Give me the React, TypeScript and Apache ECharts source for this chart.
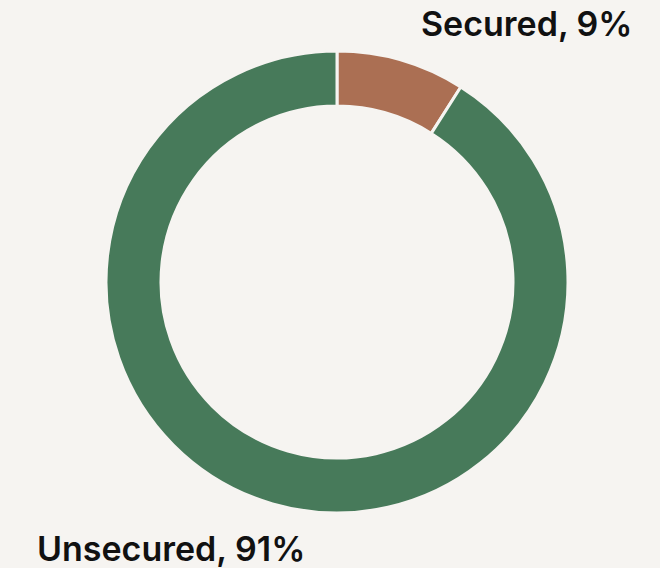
import React, { useEffect, useRef } from "react";
import * as echarts from "echarts";

const categories = ["Secured", "Unsecured"];
const values = [9, 91];
const colors = ["#ab6f53", "#477a5a"];

export default function App() {
  const ref = useRef<HTMLDivElement>(null);
  useEffect(() => {
    document.body.style.margin = "0";
    const chart = echarts.init(ref.current!, null, { renderer: "svg" });
    chart.setOption({
      animation: false,
      backgroundColor: "#f6f4f1",
      series: [
        {
          type: "pie",
          center: [337, 282],
          radius: [176, 231],
          startAngle: 90,
          clockwise: true,
          itemStyle: { borderColor: "#f6f4f1", borderWidth: 3 },
          label: {
            show: true,
            position: "inside",
            overflow: "none",
            formatter: (p: any) => `${p.name}, ${p.value}%`,
            fontFamily: "Inter",
            fontWeight: 600,
            fontSize: 34,
            color: "#111111",
          },
          labelLine: { show: false },
          labelLayout: (p: any) =>
            p.dataIndex === 0
              ? { x: 421, y: 23, align: "left", verticalAlign: "middle" }
              : { x: 37, y: 548, align: "left", verticalAlign: "middle" },
          data: categories.map((c, i) => ({
            name: c,
            value: values[i],
            itemStyle: { color: colors[i] },
          })),
        },
      ],
    });
    return () => chart.dispose();
  }, []);
  return <div ref={ref} style={{ width: 660, height: 568 }} />;
}
